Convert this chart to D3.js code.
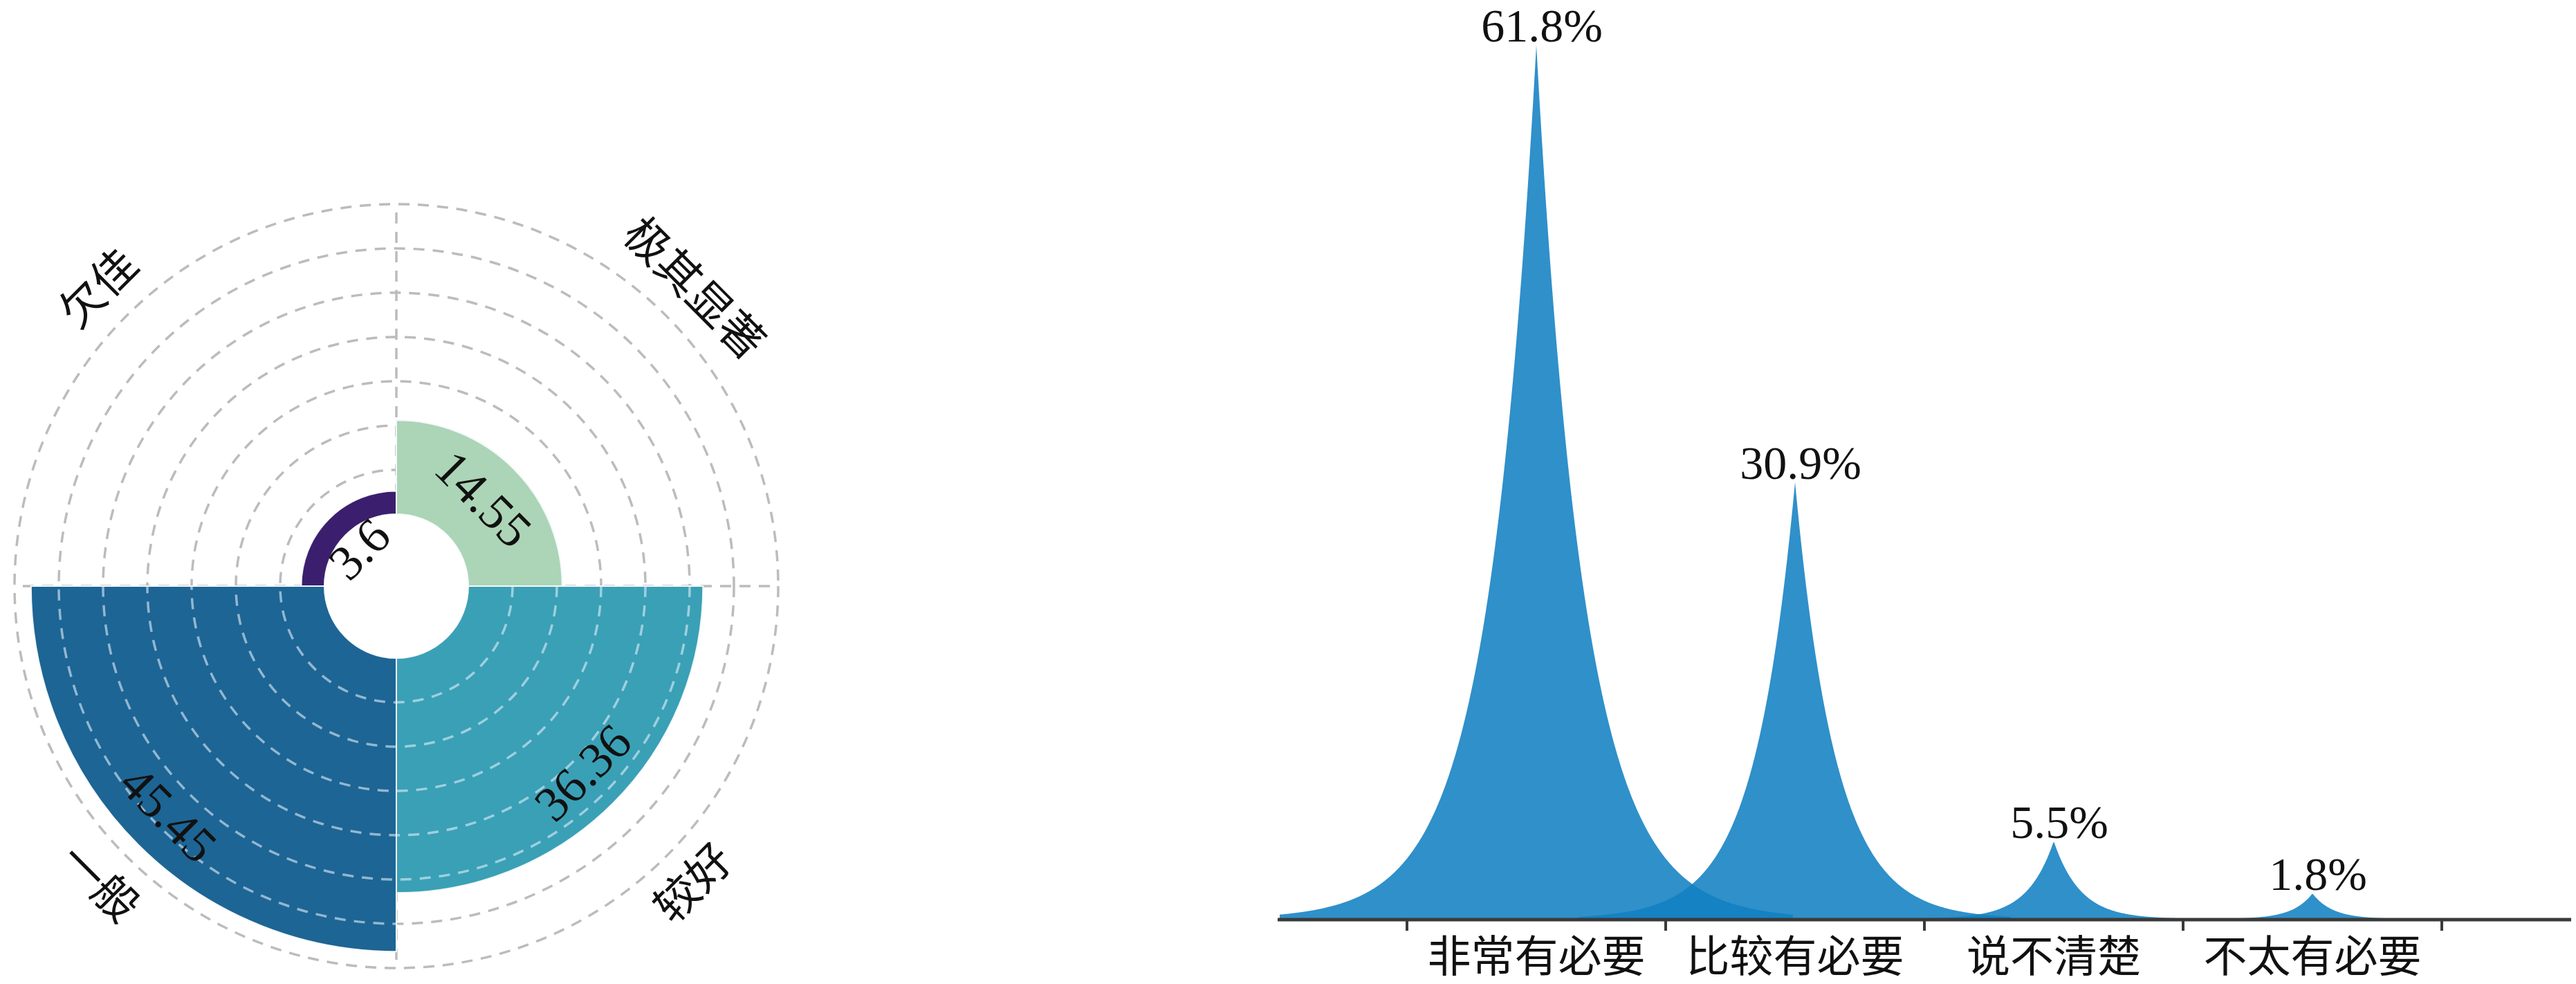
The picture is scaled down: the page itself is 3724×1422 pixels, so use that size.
<!DOCTYPE html>
<html>
<head>
<meta charset="utf-8">
<script src="https://cdn.jsdelivr.net/npm/d3@7"></script>
<style>
    body { margin: 0; background: #fff; }
    svg { display: block; }
    text { font-family: "Liberation Serif", "Noto Sans CJK SC", serif; fill: #111; }
</style>
</head>
<body>
<div id="chart"></div>
<script>
// left: polar bar, clockwise from top
let levelNames = ["极其显著", "较好", "一般", "欠佳"];
let levelValues = [14.55, 36.36, 45.45, 3.6];
let levelColors = ["#abd5b6", "#3aa0b6", "#1d6594", "#3b1f6e"];

// right: peaks
let needNames = ["非常有必要", "比较有必要", "说不清楚", "不太有必要"];
let needValues = [61.8, 30.9, 5.5, 1.8];

let width = 3724, height = 1422;

let svg = d3.select("#chart").append("svg")
    .attr("width", width)
    .attr("height", height);

// ---------- polar chart ----------
let cx = 573, cy = 847;
let rMax = 48, ringCount = 7;
let r = d3.scaleLinear().domain([0, rMax]).range([104, 552]);
let angle = d3.scaleBand().domain(levelNames).range([0, 2 * Math.PI]);

let levels = levelNames.map((name, i) => ({name: name, value: levelValues[i], color: levelColors[i]}));
let ringValues = d3.range(1, ringCount + 1).map(i => rMax * i / ringCount);

let polar = svg.append("g").attr("transform", "translate(" + cx + "," + cy + ")");

// gray dashed grid under the bars
let grid = polar.append("g").attr("class", "grid");
grid.selectAll("circle")
    .data(ringValues)
    .join("circle")
    .attr("r", d => r(d))
    .attr("fill", "none")
    .attr("stroke", "#bcbcbc")
    .attr("stroke-width", 3.5)
    .attr("stroke-dasharray", "16 12");
grid.selectAll("line")
    .data(levelNames)
    .join("line")
    .attr("x1", d => r(0) * Math.sin(angle(d)))
    .attr("y1", d => -r(0) * Math.cos(angle(d)))
    .attr("x2", d => r(rMax) * Math.sin(angle(d)))
    .attr("y2", d => -r(rMax) * Math.cos(angle(d)))
    .attr("stroke", "#bcbcbc")
    .attr("stroke-width", 3.5)
    .attr("stroke-dasharray", "16 12");

let arc = d3.arc()
    .innerRadius(r(0))
    .outerRadius(d => r(d.value))
    .startAngle(d => angle(d.name))
    .endAngle(d => angle(d.name) + angle.bandwidth());

polar.append("g")
    .selectAll("path")
    .data(levels)
    .join("path")
    .attr("d", arc)
    .attr("fill", d => d.color)
    .attr("stroke", "#f4f8fa")
    .attr("stroke-width", 2);

// the grid shows through the darker bars as light dashes
let clip = svg.append("defs").append("clipPath").attr("id", "darkbars");
clip.selectAll("path")
    .data(levels.filter(d => d3.hsl(d.color).l < 0.5))
    .join("path")
    .attr("d", arc);

polar.append("g")
    .attr("clip-path", "url(#darkbars)")
    .selectAll("circle")
    .data(ringValues)
    .join("circle")
    .attr("r", d => r(d))
    .attr("fill", "none")
    .attr("stroke", "rgba(225,238,250,0.6)")
    .attr("stroke-width", 3.5)
    .attr("stroke-dasharray", "16 12");

// hole
polar.append("circle").attr("r", r(0)).attr("fill", "#fff");

function midAngle(d) {
    return angle(d.name) + angle.bandwidth() / 2;
}
function tangentRotate(a) {
    let deg = a * 180 / Math.PI;
    if (deg > 90 && deg < 270) return deg - 180;
    if (deg >= 270) return deg - 360;
    return deg;
}

// value labels
polar.append("g")
    .selectAll("text")
    .data(levels)
    .join("text")
    .attr("transform", d => {
        let a = midAngle(d), rl = r(d.value) - 62;
        return "translate(" + (rl * Math.sin(a)) + "," + (-rl * Math.cos(a)) + ") rotate(" + tangentRotate(a) + ")";
    })
    .attr("text-anchor", "middle")
    .attr("dominant-baseline", "central")
    .style("font-size", "72px")
    .text(d => d.value);

// category labels
polar.append("g")
    .selectAll("text")
    .data(levels)
    .join("text")
    .attr("transform", d => {
        let a = midAngle(d), rl = 608;
        return "translate(" + (rl * Math.sin(a)) + "," + (-rl * Math.cos(a)) + ") rotate(" + tangentRotate(a) + ")";
    })
    .attr("text-anchor", "middle")
    .attr("dominant-baseline", "central")
    .style("font-size", "64px")
    .text(d => d.name);

// ---------- peak chart ----------
let x = d3.scaleBand().domain(needNames).range([2034, 3530]);
let y = d3.scaleLinear().domain([0, 65]).range([1328, 0]);
let bw = x.bandwidth();

// spike half-width grows slowly with the value
let spread = d3.scalePow().exponent(0.25).domain([0, d3.max(needValues)]).range([0, 70]);

let peakArea = d3.area()
    .x(p => p[0])
    .y0(y(0))
    .y1(p => y(p[1]));

let needs = needNames.map((name, i) => ({name: name, value: needValues[i]}));

function peakPoints(d) {
    let c = x(d.name) + bw / 2;
    let a = spread(d.value);
    let reach = a * 5.3;
    return d3.range(-reach, reach + 0.5, 1).map(dx => [c + dx, d.value * Math.exp(-Math.abs(dx) / a)]);
}

svg.append("g")
    .selectAll("path")
    .data(needs)
    .join("path")
    .attr("d", d => peakArea(peakPoints(d)))
    .attr("fill", "rgb(16,128,194)")
    .attr("fill-opacity", 0.87);

// axis
let axis = svg.append("g").attr("class", "axis");
axis.append("line")
    .attr("x1", x.range()[0] - bw / 2)
    .attr("x2", x.range()[1] + bw / 2)
    .attr("y1", y(0) + 1)
    .attr("y2", y(0) + 1)
    .attr("stroke", "#3a3a3a")
    .attr("stroke-width", 5);
axis.selectAll(".tick")
    .data(needNames.map(n => x(n)).concat([x.range()[1]]))
    .join("line")
    .attr("class", "tick")
    .attr("x1", d => d)
    .attr("x2", d => d)
    .attr("y1", y(0))
    .attr("y2", y(0) + 17)
    .attr("stroke", "#3a3a3a")
    .attr("stroke-width", 4);
axis.selectAll(".cat")
    .data(needs)
    .join("text")
    .attr("class", "cat")
    .attr("x", d => x(d.name) + bw / 2)
    .attr("y", y(0) + 76)
    .attr("text-anchor", "middle")
    .style("font-size", "63px")
    .text(d => d.name);

// value labels
svg.append("g")
    .selectAll("text")
    .data(needs)
    .join("text")
    .attr("x", d => x(d.name) + bw / 2 + 8)
    .attr("y", d => y(d.value) - 5)
    .attr("text-anchor", "middle")
    .style("font-size", "68px")
    .text(d => d.value + "%");
</script>
</body>
</html>
